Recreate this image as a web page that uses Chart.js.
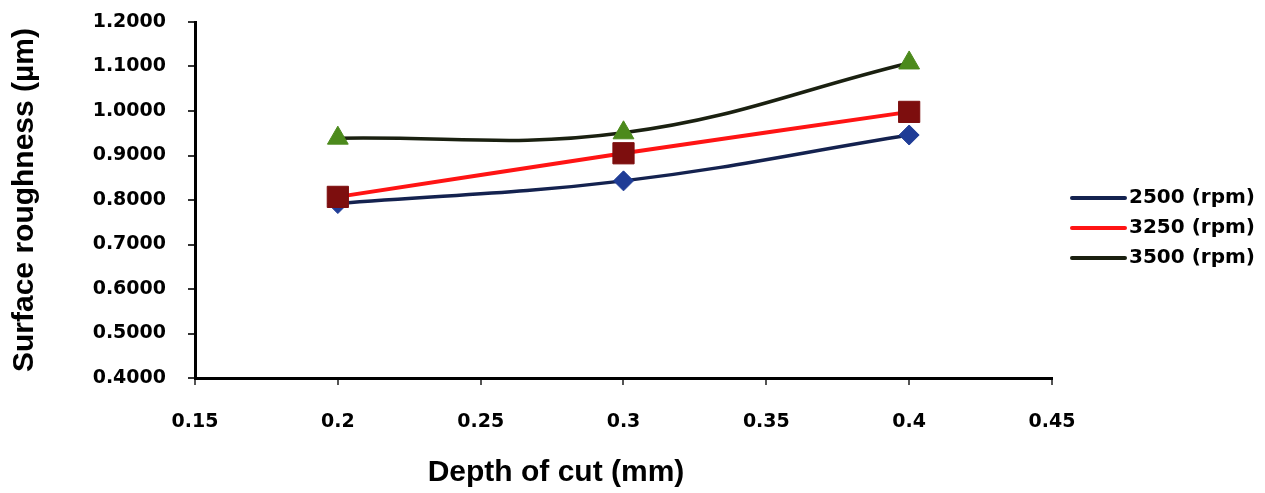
<!DOCTYPE html>
<html>
<head>
<meta charset="utf-8">
<script src="https://cdn.jsdelivr.net/npm/chart.js@4/dist/chart.umd.min.js"></script>
<style>
  html, body { margin: 0; padding: 0; background: #fff; }
  #wrap { width: 1265px; height: 493px; }
</style>
</head>
<body>
<div id="wrap"><canvas id="g1"></canvas></div>
<script>
 // Data
 const depths = [0.2, 0.3, 0.4];
 const rpm2500 = [0.792, 0.843, 0.946];
 const rpm3250 = [0.807, 0.905, 0.998];
 const rpm3500 = [0.939, 0.951, 1.108];

 const seriesLabels = ['2500 (rpm)', '3250 (rpm)', '3500 (rpm)'];
 const xTicks = [0.15, 0.2, 0.25, 0.3, 0.35, 0.4, 0.45];
 const yTicks = [0.4, 0.5, 0.6, 0.7, 0.8, 0.9, 1.0, 1.1, 1.2];
 const xTitle = 'Depth of cut (mm)';

 const tickFont = { family: 'DejaVu Sans', weight: 'bold', size: 19 };
 const titleFont = { family: 'Liberation Sans', weight: 'bold', size: 30 };

 function toPoints(values) {
     return depths.map((d, i) => ({ x: d, y: values[i] }));
 }

 // legend + x title drawn by hand (the x title sits left of the plot centre)
 const sideLegend = {
     id: 'sideLegend',
     afterDraw(chart) {
         const c = chart.ctx;
         c.save();
         chart.data.datasets.forEach((ds, i) => {
             const y = 198 + i * 30;
             c.strokeStyle = ds.borderColor;
             c.lineWidth = 4;
             c.lineCap = 'round';
             c.beginPath();
             c.moveTo(1072, y);
             c.lineTo(1125, y);
             c.stroke();
             c.fillStyle = '#000';
             c.font = 'bold 20px "DejaVu Sans"';
             c.textBaseline = 'middle';
             c.fillText(ds.label, 1129, y);
         });
         c.font = 'bold 30px "Liberation Sans"';
         c.textAlign = 'center';
         c.textBaseline = 'middle';
         c.fillStyle = '#000';
         c.fillText(xTitle, 556, 473);
         c.restore();
     }
 };

 const ctx = document.getElementById('g1').getContext('2d');
 new Chart(ctx, {
     type: 'line',
     data: {
         datasets: [
             {
                 label: seriesLabels[0],
                 data: toPoints(rpm2500),
                 borderColor: '#14224f',
                 borderWidth: 3.5,
                 tension: 0.4,
                 pointStyle: 'rectRot',
                 pointRadius: 10,
                 pointBackgroundColor: '#1f3c96',
                 pointBorderColor: '#1f3c96',
                 pointBorderWidth: 1,
                 order: 1
             },
             {
                 label: seriesLabels[1],
                 data: toPoints(rpm3250),
                 borderColor: '#ff1414',
                 borderWidth: 4,
                 tension: 0.4,
                 pointStyle: 'rect',
                 pointRadius: 15,
                 pointBackgroundColor: '#7d0e0e',
                 pointBorderColor: '#7d0e0e',
                 pointBorderWidth: 1,
                 order: 0
             },
             {
                 label: seriesLabels[2],
                 data: toPoints(rpm3500),
                 borderColor: '#1a2010',
                 borderWidth: 3.5,
                 tension: 0.4,
                 pointStyle: 'triangle',
                 pointRadius: 12,
                 pointBackgroundColor: '#4c8a1c',
                 pointBorderColor: '#4c8a1c',
                 pointBorderWidth: 1,
                 order: 2
             }
         ]
     },
     options: {
         responsive: true,
         maintainAspectRatio: false,
         animation: false,
         layout: { padding: { top: 22, right: 213, bottom: 0, left: 0 } },
         plugins: {
             legend: { display: false },
             tooltip: { enabled: false }
         },
         scales: {
             x: {
                 type: 'linear',
                 min: xTicks[0],
                 max: xTicks[xTicks.length - 1],
                 afterBuildTicks: (scale) => {
                     scale.ticks = xTicks.map(v => ({ value: v }));
                 },
                 afterFit: (scale) => {
                     scale.height = 115;
                     scale.paddingLeft = 0;
                     scale.paddingRight = 0;
                 },
                 ticks: {
                     color: '#000',
                     font: tickFont,
                     padding: 26,
                     maxRotation: 0,
                     callback: (v) => String(Math.round(v * 100) / 100)
                 },
                 grid: { drawOnChartArea: false, drawTicks: true, tickLength: 7, color: '#555', lineWidth: 2 },
                 border: { display: true, color: '#000', width: 3 },
                 title: { display: false }
             },
             y: {
                 type: 'linear',
                 min: yTicks[0],
                 max: yTicks[yTicks.length - 1],
                 afterBuildTicks: (scale) => {
                     scale.ticks = yTicks.map(v => ({ value: v }));
                 },
                 afterFit: (scale) => {
                     scale.width = 195;
                     scale.paddingTop = 0;
                     scale.paddingBottom = 0;
                 },
                 ticks: {
                     color: '#000',
                     font: tickFont,
                     padding: 22,
                     callback: (v) => Number(v).toFixed(4)
                 },
                 grid: { drawOnChartArea: false, drawTicks: true, tickLength: 7, color: '#333', lineWidth: 2 },
                 border: { display: true, color: '#000', width: 3 },
                 title: {
                     display: true,
                     text: 'Surface roughness (\u00b5m)',
                     color: '#000',
                     font: titleFont,
                     padding: { top: 7, bottom: 0 }
                 }
             }
         }
     },
     plugins: [sideLegend]
 });
</script>
</body>
</html>
